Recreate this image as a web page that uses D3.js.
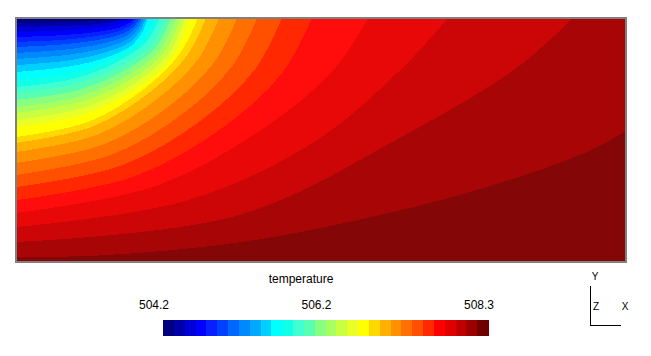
<!DOCTYPE html>
<html>
<head>
<meta charset="utf-8">
<script src="https://cdn.jsdelivr.net/npm/d3@7"></script>
<style>
  body { margin: 0; background: #fff; }
  text { font-family: "Liberation Sans", Arial, sans-serif; fill: #000; }
</style>
</head>
<body>
<svg id="chart" width="651" height="356"></svg>
<script>
// section: distance along the surface 0..250, depth below the surface 0..100
const distanceExtent = [0, 250];
const depthExtent = [0, 100];

// isotherms between neighbouring colour bands as [distance, depth]
// each one runs from the left wall to the top surface (the last one to the right wall)
const iso01 = [[0, 2.05], [15.7, 1.85], [27.5, 1.48], [34.6, 1.03], [37.7, 0.51], [39.3, 0]];
const iso02 = [[0, 3.7], [17.4, 3.3], [30.4, 2.7], [38.2, 1.85], [41.7, 0.92], [43.4, 0]];
const iso03 = [[0, 5.7], [18.5, 5.2], [32.4, 4.1], [40.7, 2.9], [44.4, 1.4], [46.3, 0]];
const iso04 = [[0, 7.8], [19.4, 7.0], [33.9, 5.6], [42.6, 3.9], [46.5, 1.9], [48.4, 0]];
const iso05 = [[0, 9.8], [19.8, 8.9], [34.7, 7.1], [43.6, 4.9], [47.6, 2.5], [49.6, 0]];
const iso06 = [[0, 11.9], [20.3, 10.7], [35.6, 8.6], [44.7, 6.0], [48.8, 3.0], [50.8, 0]];
const iso07 = [[0, 14.3], [20.6, 12.9], [36.1, 10.3], [45.4, 7.2], [49.5, 3.6], [51.6, 0]];
const iso08 = [[0, 16.8], [21.0, 15.1], [36.8, 12.1], [46.2, 8.4], [50.4, 4.2], [52.5, 0]];
const iso09 = [[0, 19.3], [21.3, 17.4], [37.3, 13.9], [46.9, 9.7], [51.2, 4.8], [53.3, 0]];
const iso10 = [[0, 22.1], [21.6, 19.9], [37.9, 15.9], [47.6, 11.1], [51.9, 5.5], [54.1, 0]];
const iso11 = [[0, 25.4], [22.8, 22.4], [39.9, 16.3], [51.3, 9.1], [57.0, 0]];
const iso12 = [[0, 28.3], [23.6, 24.9], [41.3, 18.1], [53.1, 10.2], [59.0, 0]];
const iso13 = [[0, 30.7], [24.6, 27.0], [43.1, 19.6], [55.4, 11.1], [61.5, 0]];
const iso14 = [[0, 33.6], [25.4, 29.6], [44.5, 21.5], [57.2, 12.1], [63.5, 0]];
const iso15 = [[0, 36.5], [26.2, 32.1], [45.9, 23.4], [59.0, 13.1], [65.6, 0]];
const iso16 = [[0, 38.9], [27.0, 34.2], [47.3, 24.9], [60.8, 14.0], [67.6, 0]];
const iso17 = [[0, 41.8], [27.7, 36.8], [48.5, 26.8], [62.4, 15.0], [69.3, 0]];
const iso18 = [[0, 44.7], [28.5, 39.3], [49.9, 28.6], [64.2, 16.1], [71.3, 0]];
const iso19 = [[0, 48.8], [29.8, 42.5], [52.2, 29.3], [67.1, 14.6], [74.6, 0]];
const iso20 = [[0, 51.2], [31.2, 44.5], [54.5, 30.7], [70.1, 15.4], [77.9, 0]];
const iso21 = [[0, 54.9], [33.3, 47.8], [58.2, 32.9], [74.9, 16.5], [83.2, 0]];
const iso22 = [[0, 59.4], [36.2, 51.7], [63.4, 35.6], [81.5, 17.8], [90.6, 0]];
const iso23 = [[0, 64.3], [39.5, 55.9], [69.2, 38.6], [88.9, 19.3], [98.8, 0]];
const iso24 = [[0, 69.3], [43.6, 60.3], [76.3, 41.6], [98.1, 20.8], [109.0, 0]];
const iso25 = [[0, 74.6], [48.5, 64.9], [84.9, 44.8], [109.2, 22.4], [121.3, 0]];
const iso26 = [[0, 79.9], [57.7, 68.7], [101.0, 45.5], [129.9, 21.6], [144.3, 0]];
const iso27 = [[0, 85.7], [70.8, 74.6], [123.9, 49.7], [159.3, 19.5], [177.0, 0]];
const iso28 = [[0, 91.8], [91.3, 80.8], [159.8, 47.7], [205.5, 20.2], [228.3, 0]];
const iso29 = [[0, 98.0], [34.4, 97.3], [83.6, 93.0], [124.6, 86.1], [186.1, 71.3], [234.0, 54.9], [250, 46.3]];

const isotherms = [iso01, iso02, iso03, iso04, iso05, iso06, iso07, iso08, iso09, iso10,
  iso11, iso12, iso13, iso14, iso15, iso16, iso17, iso18, iso19, iso20,
  iso21, iso22, iso23, iso24, iso25, iso26, iso27, iso28, iso29];

const variableName = "temperature";
const legendTicks = ["504.2", "506.2", "508.3"];
const axisNames = ["Y", "Z", "X"];

// colour table (30 levels)
const legendColors = ["#000080", "#0000a8", "#0000d8", "#0000ff", "#0820ff", "#0040ff", "#0068ff", "#0088ff",
  "#00a8ff", "#00d0ff", "#00ffff", "#10ffe8", "#40ffd0", "#58ffb0", "#88ff80", "#a8ff60", "#c8ff40",
  "#e8ff28", "#ffff00", "#ffd800", "#ffb000", "#ff9000", "#ff7000", "#ff5000", "#ff2800", "#ff0000",
  "#e00000", "#c00000", "#9c0000", "#700000"];
const bandColors = legendColors.slice(0, 25).concat(["#ff0c0c", "#e80808", "#cc0606", "#a80606", "#840606"]);

const svg = d3.select("#chart");

const x = d3.scaleLinear().domain(distanceExtent).range([16, 626]);
const y = d3.scaleLinear().domain(depthExtent).range([18, 262]);

svg.append("clipPath").attr("id", "clip")
  .append("rect")
  .attr("x", x(distanceExtent[0])).attr("y", y(depthExtent[0]))
  .attr("width", x(distanceExtent[1]) - x(distanceExtent[0]))
  .attr("height", y(depthExtent[1]) - y(depthExtent[0]));

const plot = svg.append("g")
  .attr("clip-path", "url(#clip)")
  .attr("shape-rendering", "crispEdges");

plot.append("rect")
  .attr("x", x(distanceExtent[0])).attr("y", y(depthExtent[0]))
  .attr("width", x(distanceExtent[1]) - x(distanceExtent[0]))
  .attr("height", y(depthExtent[1]) - y(depthExtent[0]))
  .attr("fill", bandColors[0]);

const line = d3.line()
  .x(d => x(d[0]))
  .y(d => y(d[1]))
  .curve(d3.curveCatmullRom);

// each isotherm closes towards the hot (lower right) side, drawn from cold to hot
plot.selectAll("path.band")
  .data(isotherms)
  .join("path")
  .attr("class", "band")
  .attr("d", pts => {
    const last = pts[pts.length - 1];
    const corners = last[0] >= distanceExtent[1]
      ? [[distanceExtent[1], depthExtent[1]], [distanceExtent[0], depthExtent[1]]]
      : [[distanceExtent[1], depthExtent[0]], [distanceExtent[1], depthExtent[1]], [distanceExtent[0], depthExtent[1]]];
    return line(pts) + corners.map(c => "L" + x(c[0]) + "," + y(c[1])).join("") + "Z";
  })
  .attr("fill", (d, i) => bandColors[i + 1]);

svg.append("rect")
  .attr("x", 16).attr("y", 18)
  .attr("width", 610).attr("height", 244)
  .attr("fill", "none")
  .attr("stroke", "#808080")
  .attr("stroke-width", 2);

// colour legend
svg.append("text")
  .attr("x", 301).attr("y", 283)
  .attr("text-anchor", "middle")
  .attr("font-size", 12)
  .text(variableName);

const lx = d3.scaleBand().domain(d3.range(legendColors.length)).range([163, 488]);
svg.append("g")
  .attr("shape-rendering", "crispEdges")
  .selectAll("rect")
  .data(legendColors)
  .join("rect")
  .attr("x", (d, i) => lx(i))
  .attr("y", 320)
  .attr("width", lx.bandwidth() + 0.5)
  .attr("height", 16)
  .attr("fill", d => d);

const tx = d3.scalePoint().domain(legendTicks).range([154, 479]);
svg.append("g")
  .selectAll("text")
  .data(legendTicks)
  .join("text")
  .attr("x", d => tx(d))
  .attr("y", 309)
  .attr("text-anchor", "middle")
  .attr("font-size", 12)
  .text(d => d);

// axis triad
const triad = svg.append("g").attr("shape-rendering", "crispEdges");
triad.append("line").attr("x1", 590.5).attr("y1", 286).attr("x2", 590.5).attr("y2", 326).attr("stroke", "#000");
triad.append("line").attr("x1", 590).attr("y1", 325.5).attr("x2", 621).attr("y2", 325.5).attr("stroke", "#000");
triad.append("text").attr("x", 595).attr("y", 280).attr("text-anchor", "middle").attr("font-size", 10).text(axisNames[0]);
triad.append("text").attr("x", 596).attr("y", 310).attr("text-anchor", "middle").attr("font-size", 10).text(axisNames[1]);
triad.append("text").attr("x", 625).attr("y", 310).attr("text-anchor", "middle").attr("font-size", 10).text(axisNames[2]);
</script>
</body>
</html>
